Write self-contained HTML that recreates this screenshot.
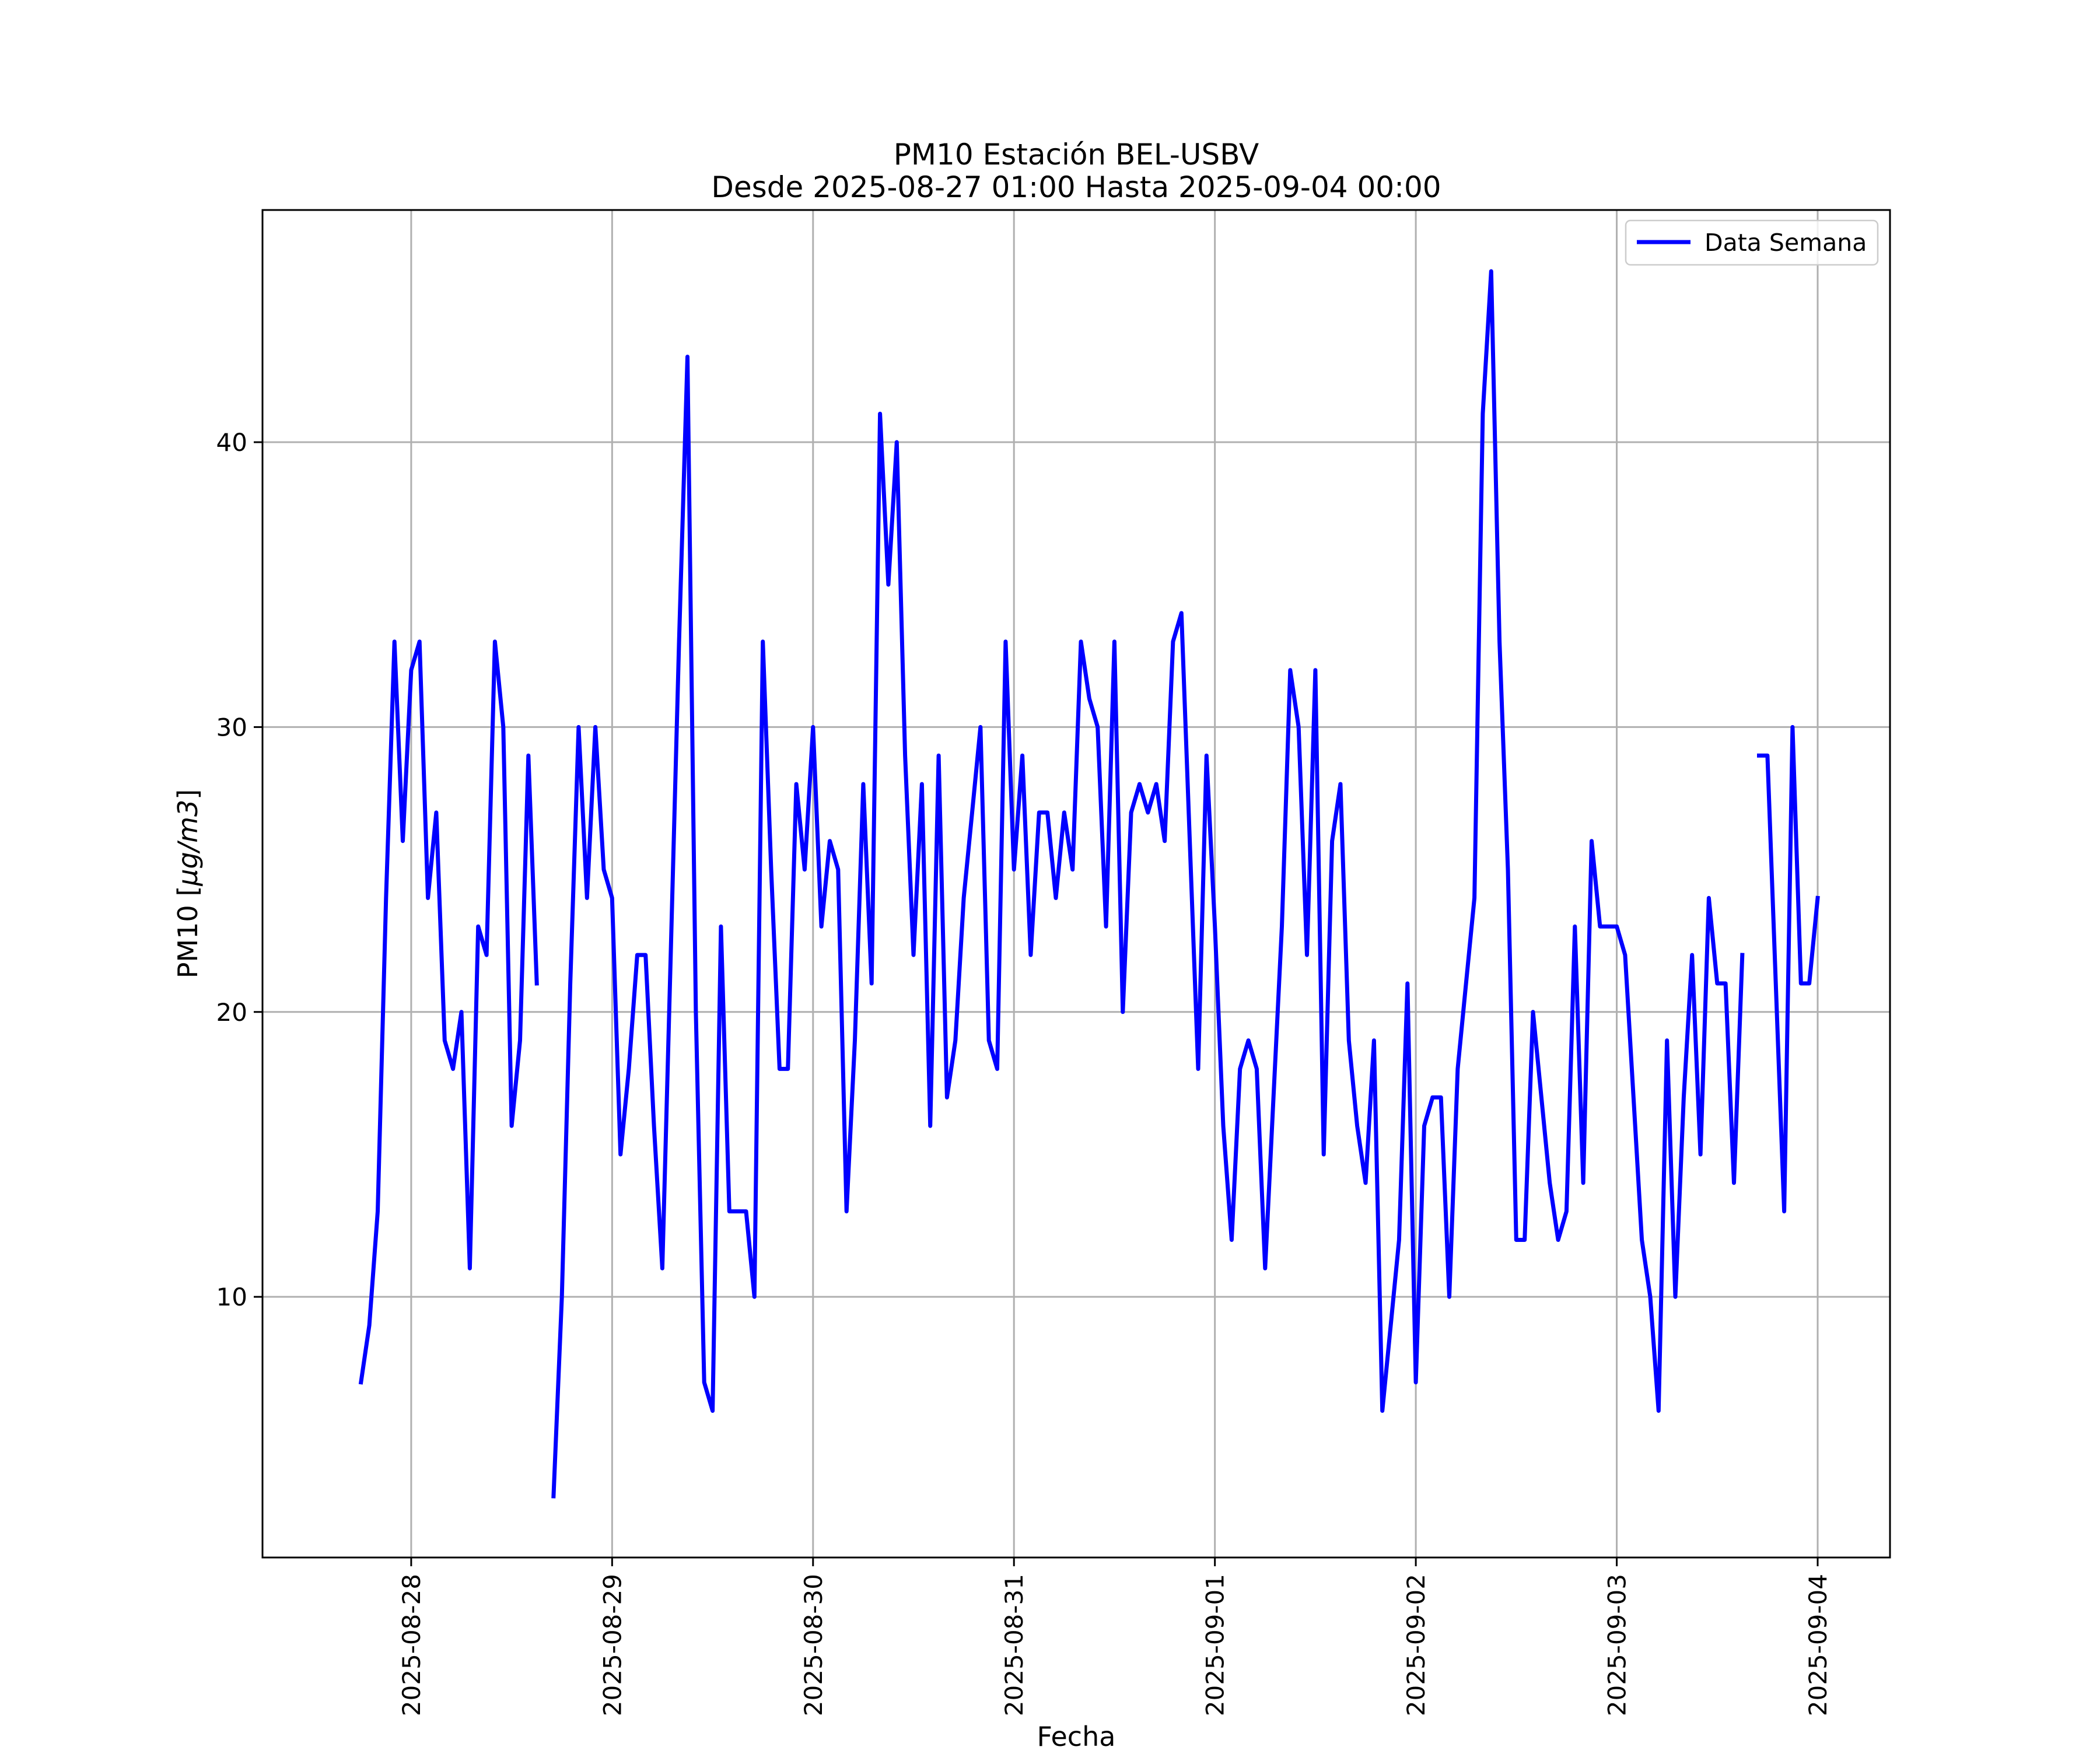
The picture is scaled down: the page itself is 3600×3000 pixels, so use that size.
<!DOCTYPE html>
<html><head><meta charset="utf-8"><style>
html,body{margin:0;padding:0;background:#fff;}
svg{display:block;font-family:"DejaVu Sans","Liberation Sans",sans-serif;}
</style></head><body>
<svg id="chart" width="3600" height="3000" viewBox="0 0 3600 3000" xmlns="http://www.w3.org/2000/svg">
<rect x="0" y="0" width="3600" height="3000" fill="#fff"/>
<text x="1845" y="282" font-size="50" text-anchor="middle">PM10 Estación BEL-USBV</text>
<text x="1845" y="338" font-size="50" text-anchor="middle">Desde 2025-08-27 01:00 Hasta 2025-09-04 00:00</text>
<g id="grid"></g>
<g id="series"></g>
<rect x="450" y="360" width="2790" height="2310" fill="none" stroke="#000" stroke-width="3"/>
<g id="axes"></g>
<text transform="translate(338,1515) rotate(-90)" font-size="46" text-anchor="middle">PM10 [<tspan font-style="italic">μg/m3</tspan>]</text>
<text x="1845" y="2993" font-size="46" text-anchor="middle">Fecha</text>
<g>
<rect x="2787" y="378" width="432" height="76" rx="8" fill="#fff" fill-opacity="0.8" stroke="#ccc" stroke-width="2.5"/>
<line x1="2806" y1="415" x2="2898" y2="415" stroke="#0000ff" stroke-width="7"/>
<text x="2922" y="430" font-size="41">Data Semana</text>
</g>
</svg>
<script>
// data: hourly values starting 2025-08-27 18:00 (null = gap)
const startOffsetDays = -0.25; // days relative to 2025-08-28 00:00
const values = [7,9,13,24,33,26,32,33,24,27,19,18,20,11,23,22,33,30,16,19,29,21,null,3,10,21,30,24,30,25,
24,15,18,22,22,16,11,22,33,43,20,7,6,23,13,13,13,10,33,25,18,18,28,25,
30,23,26,25,13,19,28,21,41,35,40,29,22,28,16,29,17,19,24,27,30,19,18,33,
25,29,22,27,27,24,27,25,33,31,30,23,33,20,27,28,27,28,26,33,34,26,18,29,
23,16,12,18,19,18,11,17,23,32,30,22,32,15,26,28,19,16,14,19,6,9,12,21,
7,16,17,17,10,18,21,24,41,46,33,25,12,12,20,17,14,12,13,23,14,26,23,23,
23,22,17,12,10,6,19,10,17,22,15,24,21,21,14,22,null,29,29,21,13,30,21,21,24];
const xTickLabels = ["2025-08-28","2025-08-29","2025-08-30","2025-08-31","2025-09-01","2025-09-02","2025-09-03","2025-09-04"];
const yTicks = [10,20,30,40];

const L=450,R=3240,T=360,B=2670;
const xMin=-0.740, xMax=7.360; // days relative to 2025-08-28
const yMin=0.85, yMax=48.15;
const xs = d => L + (d - xMin) / (xMax - xMin) * (R - L);
const ys = v => B - (v - yMin) / (yMax - yMin) * (B - T);
const NS="http://www.w3.org/2000/svg";
const grid=document.getElementById('grid'), axes=document.getElementById('axes'), series=document.getElementById('series');
function mk(tag, attrs){const e=document.createElementNS(NS,tag);for(const k in attrs)e.setAttribute(k,attrs[k]);return e;}

xTickLabels.forEach((lab,i)=>{
  const x=xs(i);
  const g=mk('line',{x1:x,y1:T,x2:x,y2:B,stroke:'#b0b0b0','stroke-width':3});
  
  
  grid.appendChild(g);
  const t=mk('line',{x1:x,y1:B,x2:x,y2:B+15,stroke:'#000','stroke-width':3});
  
  
  axes.appendChild(t);
  const tx=mk('text',{transform:`translate(${x+15},${B+28}) rotate(-90)`,'font-size':42,'text-anchor':'end'});
  tx.textContent=lab;
  
  
  axes.appendChild(tx);
});
yTicks.forEach(v=>{
  const y=ys(v);
  const g=mk('line',{x1:L,y1:y,x2:R,y2:y,stroke:'#b0b0b0','stroke-width':3});
  
  
  grid.appendChild(g);
  const t=mk('line',{x1:L-15,y1:y,x2:L,y2:y,stroke:'#000','stroke-width':3});
  
  
  axes.appendChild(t);
  const tx=mk('text',{x:L-26,y:y+15,'font-size':42,'text-anchor':'end'});
  tx.textContent=v;
  
  
  axes.appendChild(tx);
});
let d='',pen=false;
values.forEach((v,i)=>{
  if(v===null){pen=false;return;}
  const x=xs(startOffsetDays+i/24), y=ys(v);
  d+=(pen?'L':'M')+x.toFixed(1)+' '+y.toFixed(1)+' ';
  pen=true;
});
const p=mk('path',{d:d,fill:'none',stroke:'#0000ff','stroke-width':7,'stroke-linejoin':'round','stroke-linecap':'square'});


series.appendChild(p);
</script>
</body></html>
